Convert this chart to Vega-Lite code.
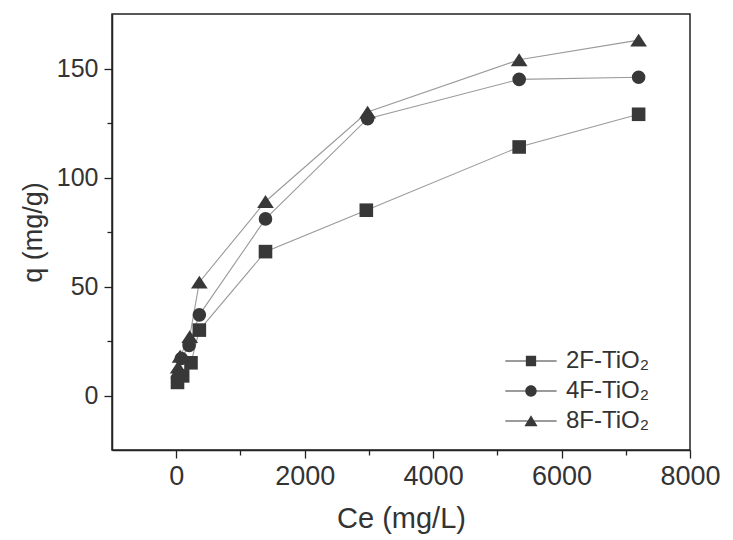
{
  "$schema": "https://vega.github.io/schema/vega-lite/v6.json",
  "width": 578,
  "height": 436,
  "autosize": "none",
  "padding": {"left": 112, "top": 14, "right": 43, "bottom": 90},
  "background": "white",
  "config": {
    "view": {"stroke": "#222", "strokeWidth": 1.5},
    "font": "Liberation Sans"
  },
  "data": {
    "values": [
      {"series": "2F-TiO₂", "Ce": 20, "q": 6},
      {"series": "2F-TiO₂", "Ce": 100, "q": 9},
      {"series": "2F-TiO₂", "Ce": 230, "q": 15},
      {"series": "2F-TiO₂", "Ce": 360, "q": 30},
      {"series": "2F-TiO₂", "Ce": 1390, "q": 66},
      {"series": "2F-TiO₂", "Ce": 2960, "q": 85},
      {"series": "2F-TiO₂", "Ce": 5340, "q": 114},
      {"series": "2F-TiO₂", "Ce": 7200, "q": 129},
      {"series": "4F-TiO₂", "Ce": 20, "q": 8},
      {"series": "4F-TiO₂", "Ce": 80, "q": 17},
      {"series": "4F-TiO₂", "Ce": 200, "q": 23},
      {"series": "4F-TiO₂", "Ce": 360, "q": 37},
      {"series": "4F-TiO₂", "Ce": 1390, "q": 81},
      {"series": "4F-TiO₂", "Ce": 2980, "q": 127},
      {"series": "4F-TiO₂", "Ce": 5340, "q": 145},
      {"series": "4F-TiO₂", "Ce": 7200, "q": 146},
      {"series": "8F-TiO₂", "Ce": 30, "q": 13},
      {"series": "8F-TiO₂", "Ce": 60, "q": 18},
      {"series": "8F-TiO₂", "Ce": 210, "q": 27},
      {"series": "8F-TiO₂", "Ce": 360, "q": 52},
      {"series": "8F-TiO₂", "Ce": 1390, "q": 89},
      {"series": "8F-TiO₂", "Ce": 2980, "q": 130},
      {"series": "8F-TiO₂", "Ce": 5340, "q": 154},
      {"series": "8F-TiO₂", "Ce": 7200, "q": 163}
    ]
  },
  "encoding": {
    "x": {
      "field": "Ce",
      "type": "quantitative",
      "scale": {"domain": [-1000, 8000], "nice": false, "zero": false},
      "axis": {
        "title": "Ce (mg/L)",
        "values": [0, 1000, 2000, 3000, 4000, 5000, 6000, 7000, 8000],
        "format": "d",
        "labelExpr": "datum.value % 2000 === 0 ? datum.label : ''",
        "grid": false,
        "labelFlush": false,
        "labelOverlap": false,
        "tickSize": {"condition": {"test": "datum.value % 2000 === 0", "value": 8}, "value": 5},
        "tickColor": "#222",
        "tickWidth": 1.3,
        "domainColor": "#222",
        "domainWidth": 1.5,
        "labelFontSize": 27,
        "labelColor": "#333",
        "labelPadding": 5,
        "titleFontSize": 29,
        "titleFontWeight": "normal",
        "titleColor": "#333",
        "titlePadding": 15
      }
    },
    "y": {
      "field": "q",
      "type": "quantitative",
      "scale": {"domain": [-25, 175], "nice": false, "zero": false},
      "axis": {
        "title": "q (mg/g)",
        "values": [0, 25, 50, 75, 100, 125, 150],
        "labelExpr": "datum.value % 50 === 0 ? datum.label : ''",
        "grid": false,
        "labelOverlap": false,
        "labelFlush": false,
        "tickSize": {"condition": {"test": "datum.value % 50 === 0", "value": 8}, "value": 5},
        "tickColor": "#222",
        "tickWidth": 1.3,
        "domainColor": "#222",
        "domainWidth": 1.5,
        "labelFontSize": 25,
        "labelColor": "#333",
        "labelPadding": 6,
        "titleFontSize": 27,
        "titleFontWeight": "normal",
        "titleColor": "#333",
        "titlePadding": 9
      }
    }
  },
  "layer": [
    {
      "mark": {"type": "line", "stroke": "#9a9a9a", "strokeWidth": 1.1},
      "encoding": {"detail": {"field": "series", "type": "nominal"}}
    },
    {
      "mark": {"type": "point", "filled": true, "size": 185, "fill": "#383838", "opacity": 1},
      "encoding": {
        "shape": {
          "field": "series",
          "type": "nominal",
          "scale": {
            "domain": ["2F-TiO₂", "4F-TiO₂", "8F-TiO₂"],
            "range": ["square", "circle", "M0,-0.95L1.23,0.95H-1.23Z"]
          },
          "legend": null
        }
      }
    },
    {
      "transform": [{"filter": "false"}],
      "mark": {"type": "point", "filled": true, "size": 130, "fill": "#383838", "opacity": 1},
      "encoding": {
        "shape": {
          "field": "series",
          "type": "nominal",
          "scale": {
            "domain": ["2F-TiO₂", "4F-TiO₂", "8F-TiO₂"],
            "range": [
              "M-4.5,-0.09H4.5V0.09H-4.5ZM-0.9,-0.9H0.9V0.9H-0.9Z",
              "M-4.5,-0.09H4.5V0.09H-4.5ZM-1,0A1,1,0,1,1,1,0A1,1,0,1,1,-1,0Z",
              "M-4.5,-0.09H4.5V0.09H-4.5ZM0,-1L1.15,0.9H-1.15Z"
            ]
          },
          "legend": {
            "title": null,
            "orient": "none",
            "legendX": 407,
            "legendY": 335,
            "labelFontSize": 24,
            "labelColor": "#333",
            "labelFont": "Liberation Sans",
            "symbolSize": 130,
            "symbolFillColor": "#383838",
            "labelOffset": 23,
            "rowPadding": 6
          }
        }
      }
    }
  ],
  "resolve": {"scale": {"shape": "independent"}}
}
